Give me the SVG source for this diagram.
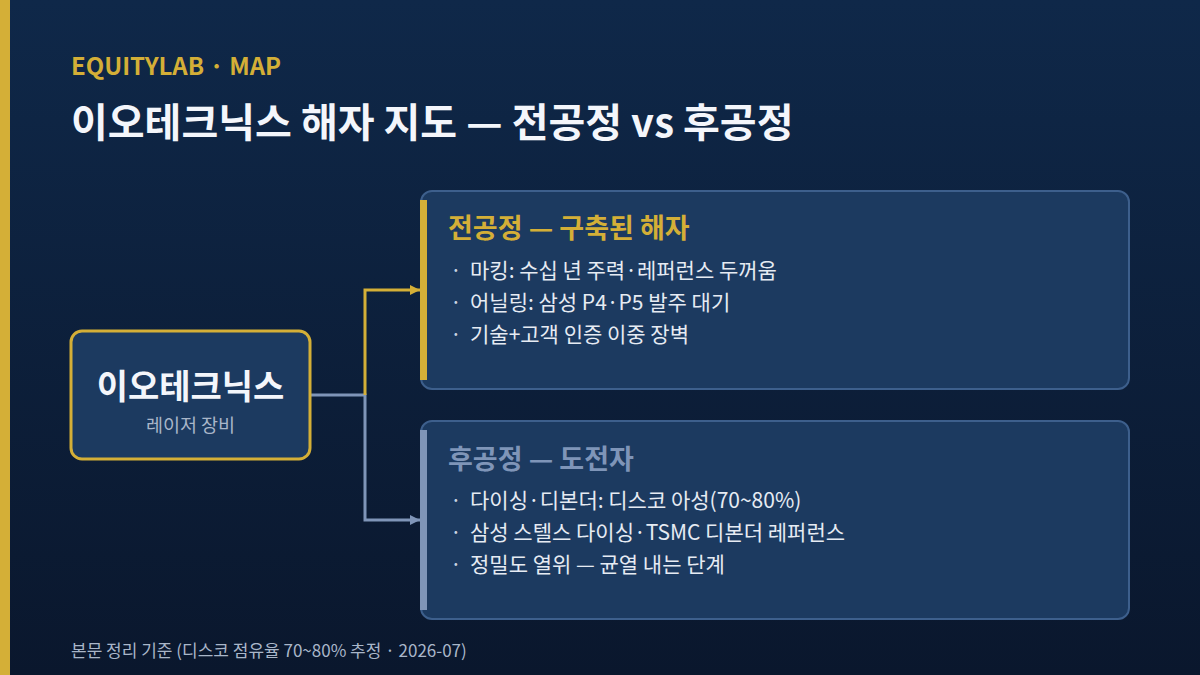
<svg xmlns="http://www.w3.org/2000/svg" width="1200" height="675" viewBox="0 0 1200 675">
<defs>
<linearGradient id="bg" x1="0" y1="0" x2="0" y2="1">
<stop offset="0" stop-color="#0f2849"/>
<stop offset="1" stop-color="#0a172d"/>
</linearGradient>
<marker id="ag" viewBox="0 0 10 10" refX="10" refY="5" markerWidth="10" markerHeight="10" markerUnits="userSpaceOnUse" orient="auto"><path d="M0,0 L10,5 L0,10 z" fill="#d4af37"/></marker>
<marker id="ab" viewBox="0 0 10 10" refX="10" refY="5" markerWidth="10" markerHeight="10" markerUnits="userSpaceOnUse" orient="auto"><path d="M0,0 L10,5 L0,10 z" fill="#7f95b8"/></marker>
</defs>
<style>
text{font-family:"Noto Sans CJK KR","Noto Sans",sans-serif;}
.card{fill:#1c3a60;stroke:#3d5f8c;stroke-width:2;}
.bul{font-size:21px;fill:#e6ebf3;}
.dot{font-size:21px;fill:#c8d2e0;}
</style>
<rect width="1200" height="675" fill="url(#bg)"/>
<rect x="0" y="0" width="10" height="675" fill="#d4af37"/>
<text x="71" y="75" font-size="24" font-weight="700" fill="#d4af37">EQUITYLAB · MAP</text>
<text x="71" y="137" font-size="40" font-weight="700" fill="#f4f6fb">이오테크닉스 해자 지도 — 전공정 vs 후공정</text>

<g id="connectors" fill="none" stroke-width="3">
<path d="M310,395 H365 V520 H420" stroke="#7f95b8" marker-end="url(#ab)"/>
<path d="M365,395 V290 H420" stroke="#d4af37" marker-end="url(#ag)"/>
</g>

<g id="node-main">
<rect x="71" y="331" width="239" height="128" rx="11" fill="#1c3a60" stroke="#d4af37" stroke-width="3"/>
<text x="190.5" y="399" text-anchor="middle" font-size="34" font-weight="700" fill="#f4f6fb">이오테크닉스</text>
<text x="190.5" y="432" text-anchor="middle" font-size="18.5" fill="#a9b6c9">레이저 장비</text>
</g>

<g id="node-front">
<rect class="card" x="421" y="191" width="708" height="198" rx="11"/>
<rect x="420" y="200" width="7" height="180" fill="#d4af37"/>
<text x="448" y="238" font-size="27" font-weight="700" fill="#d4af37">전공정 — 구축된 해자</text>
<text class="dot" x="450" y="278">·</text><text class="bul" x="470" y="278">마킹: 수십 년 주력·레퍼런스 두꺼움</text>
<text class="dot" x="450" y="310">·</text><text class="bul" x="470" y="310">어닐링: 삼성 P4·P5 발주 대기</text>
<text class="dot" x="450" y="342">·</text><text class="bul" x="470" y="342">기술+고객 인증 이중 장벽</text>
</g>

<g id="node-back">
<rect class="card" x="421" y="421" width="708" height="198" rx="11"/>
<rect x="420" y="430" width="7" height="180" fill="#7f95b8"/>
<text x="448" y="469" font-size="27" font-weight="700" fill="#7f95b8">후공정 — 도전자</text>
<text class="dot" x="450" y="508">·</text><text class="bul" x="470" y="508">다이싱·디본더: 디스코 아성(70~80%)</text>
<text class="dot" x="450" y="540">·</text><text class="bul" x="470" y="540">삼성 스텔스 다이싱·TSMC 디본더 레퍼런스</text>
<text class="dot" x="450" y="572">·</text><text class="bul" x="470" y="572">정밀도 열위 — 균열 내는 단계</text>
</g>

<text x="71" y="657" font-size="17" fill="#a9b6c9">본문 정리 기준 (디스코 점유율 70~80% 추정 · 2026-07)</text>
</svg>
